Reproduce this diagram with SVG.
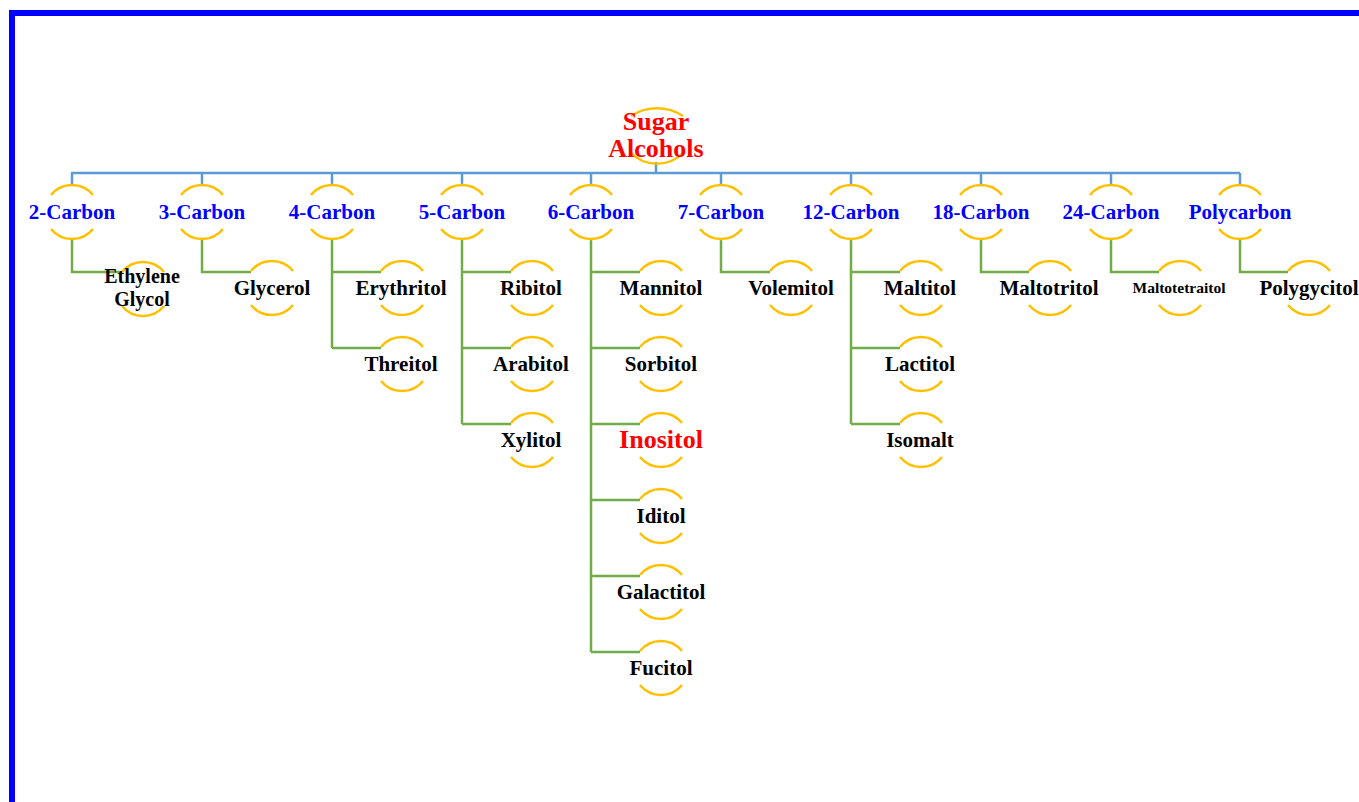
<svg xmlns="http://www.w3.org/2000/svg" xmlns:xlink="http://www.w3.org/1999/xlink" width="1359" height="802" viewBox="0 0 1359 802">
  <style>
    text { font-family: "Liberation Serif", "Times New Roman", serif; font-weight: bold; text-anchor: middle; }
    .root { fill: #FF0000; font-size: 26px; }
    .cat { fill: #0000FF; font-size: 21px; }
    .leaf { fill: #000000; font-size: 21px; }
    .pair { fill: #000000; font-size: 20px; }
    .hi { fill: #FF0000; font-size: 26px; }
    .tiny { fill: #000000; font-size: 15.5px; }
    .ring { fill: none; stroke: #FFC000; stroke-width: 2.5; }
    .bus { fill: none; stroke: #5B9BD5; stroke-width: 2.5; }
    .branch { fill: none; stroke: #70AD47; stroke-width: 2.5; }
  </style>
  <defs>
    <!-- open ring: upper and lower arcs, gaps left and right -->
    <path id="ring" class="ring" d="M-21,-17 A27,27 0 0 1 21,-17 M21,17 A27,27 0 0 1 -21,17"/>
  </defs>

  <rect width="1359" height="802" fill="#FFFFFF"/>
  <!-- frame edges -->
  <rect x="9" y="10" width="1350" height="6" fill="#0000FF"/>
  <rect x="9" y="10" width="6" height="792" fill="#0000FF"/>

  <g id="connectors">
    <path class="bus" d="M656,162 V173 M71,173 H1240 M72,173 V185 M202,173 V185 M332,173 V185 M462,173 V185 M591,173 V185 M721,173 V185 M851,173 V185 M981,173 V185 M1111,173 V185 M1240,173 V185"/>
    <path class="branch" d="M72,239 V272 H122"/>
    <path class="branch" d="M202,239 V272 H251"/>
    <path class="branch" d="M332,239 V348 M332,272 H381 M332,348 H381"/>
    <path class="branch" d="M462,239 V424 M462,272 H511 M462,348 H511 M462,424 H511"/>
    <path class="branch" d="M591,239 V652 M591,272 H640 M591,348 H640 M591,424 H640 M591,500 H640 M591,576 H640 M591,652 H640"/>
    <path class="branch" d="M721,239 V272 H770"/>
    <path class="branch" d="M851,239 V424 M851,272 H900 M851,348 H900 M851,424 H900"/>
    <path class="branch" d="M981,239 V272 H1029"/>
    <path class="branch" d="M1111,239 V272 H1159"/>
    <path class="branch" d="M1240,239 V272 H1288"/>
  </g>

  <g id="root">
    <path class="ring" d="M631,116 A48,48 0 0 1 683,116 M684,152 A37,37 0 0 1 630,152"/>
    <text class="root" x="656" y="130">Sugar</text>
    <text class="root" x="656" y="157">Alcohols</text>
  </g>

  <g id="c2"><use xlink:href="#ring" x="72" y="212"/><text class="cat" x="72" y="219">2-Carbon</text></g>
  <g id="c3"><use xlink:href="#ring" x="202" y="212"/><text class="cat" x="202" y="219">3-Carbon</text></g>
  <g id="c4"><use xlink:href="#ring" x="332" y="212"/><text class="cat" x="332" y="219">4-Carbon</text></g>
  <g id="c5"><use xlink:href="#ring" x="462" y="212"/><text class="cat" x="462" y="219">5-Carbon</text></g>
  <g id="c6"><use xlink:href="#ring" x="591" y="212"/><text class="cat" x="591" y="219">6-Carbon</text></g>
  <g id="c7"><use xlink:href="#ring" x="721" y="212"/><text class="cat" x="721" y="219">7-Carbon</text></g>
  <g id="c12"><use xlink:href="#ring" x="851" y="212"/><text class="cat" x="851" y="219">12-Carbon</text></g>
  <g id="c18"><use xlink:href="#ring" x="981" y="212"/><text class="cat" x="981" y="219">18-Carbon</text></g>
  <g id="c24"><use xlink:href="#ring" x="1111" y="212"/><text class="cat" x="1111" y="219">24-Carbon</text></g>
  <g id="cpoly"><use xlink:href="#ring" x="1240" y="212"/><text class="cat" x="1240" y="219">Polycarbon</text></g>

  <g id="ethylene-glycol"><use xlink:href="#ring" x="143" y="289"/><text class="pair"><tspan x="142" y="283">Ethylene</tspan><tspan x="142" y="306">Glycol</tspan></text></g>
  <g id="glycerol"><use xlink:href="#ring" x="272" y="288"/><text class="leaf" x="272" y="295">Glycerol</text></g>
  <g id="erythritol"><use xlink:href="#ring" x="402" y="288"/><text class="leaf" x="401" y="295">Erythritol</text></g>
  <g id="threitol"><use xlink:href="#ring" x="402" y="364"/><text class="leaf" x="401" y="371">Threitol</text></g>
  <g id="ribitol"><use xlink:href="#ring" x="532" y="288"/><text class="leaf" x="531" y="295">Ribitol</text></g>
  <g id="arabitol"><use xlink:href="#ring" x="532" y="364"/><text class="leaf" x="531" y="371">Arabitol</text></g>
  <g id="xylitol"><use xlink:href="#ring" x="532" y="440"/><text class="leaf" x="531" y="447">Xylitol</text></g>
  <g id="mannitol"><use xlink:href="#ring" x="661" y="288"/><text class="leaf" x="661" y="295">Mannitol</text></g>
  <g id="sorbitol"><use xlink:href="#ring" x="661" y="364"/><text class="leaf" x="661" y="371">Sorbitol</text></g>
  <g id="inositol"><use xlink:href="#ring" x="661" y="440"/><text class="hi" x="661" y="448">Inositol</text></g>
  <g id="iditol"><use xlink:href="#ring" x="661" y="516"/><text class="leaf" x="661" y="523">Iditol</text></g>
  <g id="galactitol"><use xlink:href="#ring" x="661" y="592"/><text class="leaf" x="661" y="599">Galactitol</text></g>
  <g id="fucitol"><use xlink:href="#ring" x="661" y="668"/><text class="leaf" x="661" y="675">Fucitol</text></g>
  <g id="volemitol"><use xlink:href="#ring" x="791" y="288"/><text class="leaf" x="791" y="295">Volemitol</text></g>
  <g id="maltitol"><use xlink:href="#ring" x="921" y="288"/><text class="leaf" x="920" y="295">Maltitol</text></g>
  <g id="lactitol"><use xlink:href="#ring" x="921" y="364"/><text class="leaf" x="920" y="371">Lactitol</text></g>
  <g id="isomalt"><use xlink:href="#ring" x="921" y="440"/><text class="leaf" x="920" y="447">Isomalt</text></g>
  <g id="maltotritol"><use xlink:href="#ring" x="1050" y="288"/><text class="leaf" x="1049" y="295">Maltotritol</text></g>
  <g id="maltotetraitol"><use xlink:href="#ring" x="1180" y="288"/><text class="tiny" x="1179" y="293">Maltotetraitol</text></g>
  <g id="polygycitol"><use xlink:href="#ring" x="1309" y="288"/><text class="leaf" x="1309" y="295">Polygycitol</text></g>
</svg>
